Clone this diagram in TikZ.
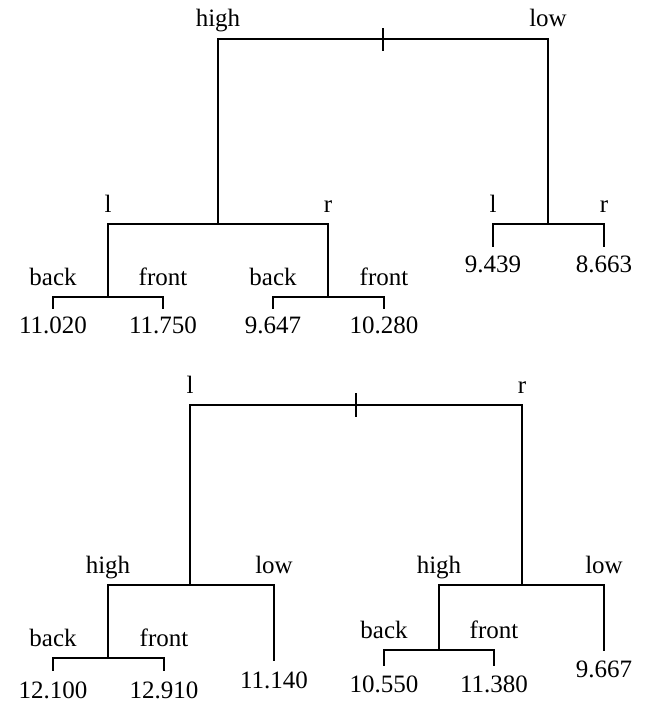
\documentclass[tikz,border=0pt]{standalone}
\usepackage{fontspec}
\setmainfont{Liberation Serif}
\begin{document}
\begin{tikzpicture}[x=1pt,y=-1pt,
  edge/.style={line width=2pt,line cap=rect},
  lab/.style={font=\fontsize{25}{25}\selectfont,anchor=base,inner sep=0pt},
  val/.style={font=\fontsize{25}{25}\selectfont,anchor=base,inner sep=0pt}]
\useasboundingbox (0,0) rectangle (645,704);

% ---------------- upper tree ----------------
% root split
\coordinate (uRl) at (218,39);
\coordinate (uRr) at (548,39);
\coordinate (uRt) at (383,29);
\coordinate (uRb) at (383,50);
\node[lab] (uHigh) at (218,27) {high};
\node[lab] (uLow)  at (548,27) {low};
% left child split (l / r)
\coordinate (uA)  at (218,224);
\coordinate (uAl) at (108,224);
\coordinate (uAr) at (328,224);
\node[lab] (uAlL) at (108,212) {l};
\node[lab] (uArL) at (328,212) {r};
% right child split (l / r)
\coordinate (uB)  at (548,224);
\coordinate (uBl) at (493,224);
\coordinate (uBr) at (604,224);
\node[lab] (uBlL) at (493,212) {l};
\node[lab] (uBrL) at (604,212) {r};
% left-left split (back / front)
\coordinate (uC)  at (108,297);
\coordinate (uCl) at (53,297);
\coordinate (uCr) at (163,297);
\node[lab] (uClL) at (53,285) {back};
\node[lab] (uCrL) at (163,285) {front};
% left-right split (back / front)
\coordinate (uD)  at (328,297);
\coordinate (uDl) at (273,297);
\coordinate (uDr) at (384,297);
\node[lab] (uDlL) at (273,285) {back};
\node[lab] (uDrL) at (384,285) {front};
% leaves
\coordinate (uC1) at (53,308);
\coordinate (uC2) at (163,308);
\coordinate (uD1) at (273,308);
\coordinate (uD2) at (384,308);
\coordinate (uB1) at (493,246);
\coordinate (uB2) at (604,246);
\node[val] (vC1) at (53,333)  {11.020};
\node[val] (vC2) at (163,333) {11.750};
\node[val] (vD1) at (273,333) {9.647};
\node[val] (vD2) at (384,333) {10.280};
\node[val] (vB1) at (493,272) {9.439};
\node[val] (vB2) at (604,272) {8.663};

\draw[edge] (uRl) -- (uRr);
\draw[edge] (uRt) -- (uRb);
\draw[edge] (uRl) -- (uA);
\draw[edge] (uRr) -- (uB);
\draw[edge] (uAl) -- (uAr);
\draw[edge] (uBl) -- (uBr);
\draw[edge] (uAl) -- (uC);
\draw[edge] (uAr) -- (uD);
\draw[edge] (uCl) -- (uCr);
\draw[edge] (uDl) -- (uDr);
\draw[edge] (uCl) -- (uC1);
\draw[edge] (uCr) -- (uC2);
\draw[edge] (uDl) -- (uD1);
\draw[edge] (uDr) -- (uD2);
\draw[edge] (uBl) -- (uB1);
\draw[edge] (uBr) -- (uB2);

% ---------------- lower tree ----------------
% root split (l / r)
\coordinate (lRl) at (190,405);
\coordinate (lRr) at (522,405);
\coordinate (lRt) at (356,394);
\coordinate (lRb) at (356,416);
\node[lab] (lL) at (190,393) {l};
\node[lab] (lR) at (522,393) {r};
% left child split (high / low)
\coordinate (lA)  at (190,585);
\coordinate (lAl) at (108,585);
\coordinate (lAr) at (274,585);
\node[lab] (lAlL) at (108,573) {high};
\node[lab] (lArL) at (274,573) {low};
% right child split (high / low)
\coordinate (lB)  at (522,585);
\coordinate (lBl) at (439,585);
\coordinate (lBr) at (604,585);
\node[lab] (lBlL) at (439,573) {high};
\node[lab] (lBrL) at (604,573) {low};
% left-high split (back / front)
\coordinate (lC)  at (108,658);
\coordinate (lCl) at (53,658);
\coordinate (lCr) at (164,658);
\node[lab] (lClL) at (53,646) {back};
\node[lab] (lCrL) at (164,646) {front};
% right-high split (back / front)
\coordinate (lD)  at (439,650);
\coordinate (lDl) at (384,650);
\coordinate (lDr) at (494,650);
\node[lab] (lDlL) at (384,638) {back};
\node[lab] (lDrL) at (494,638) {front};
% leaves
\coordinate (lC1) at (53,670);
\coordinate (lC2) at (164,670);
\coordinate (lA2) at (274,660);
\coordinate (lD1) at (384,665);
\coordinate (lD2) at (494,665);
\coordinate (lB2) at (604,650);
\node[val] (wC1) at (53,698)  {12.100};
\node[val] (wC2) at (164,698) {12.910};
\node[val] (wA2) at (274,688) {11.140};
\node[val] (wD1) at (384,692) {10.550};
\node[val] (wD2) at (494,692) {11.380};
\node[val] (wB2) at (604,677) {9.667};

\draw[edge] (lRl) -- (lRr);
\draw[edge] (lRt) -- (lRb);
\draw[edge] (lRl) -- (lA);
\draw[edge] (lRr) -- (lB);
\draw[edge] (lAl) -- (lAr);
\draw[edge] (lBl) -- (lBr);
\draw[edge] (lAl) -- (lC);
\draw[edge] (lBl) -- (lD);
\draw[edge] (lCl) -- (lCr);
\draw[edge] (lDl) -- (lDr);
\draw[edge] (lCl) -- (lC1);
\draw[edge] (lCr) -- (lC2);
\draw[edge] (lAr) -- (lA2);
\draw[edge] (lDl) -- (lD1);
\draw[edge] (lDr) -- (lD2);
\draw[edge] (lBr) -- (lB2);
\end{tikzpicture}
\end{document}
